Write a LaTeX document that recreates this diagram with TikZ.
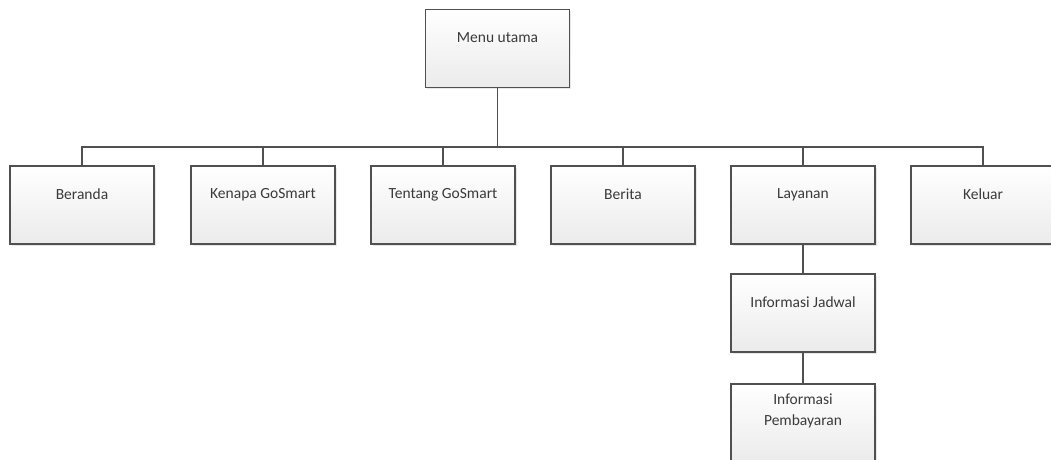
\documentclass[tikz,border=0pt]{standalone}
\usepackage{fontspec}
\setmainfont{Carlito}
\usetikzlibrary{shadows}
\definecolor{edge}{HTML}{505050}
\definecolor{txt}{HTML}{3A3A3A}
\definecolor{botgray}{HTML}{EBEBEB}
\tikzset{
  box/.style={draw=edge, line width=1.3pt, rectangle, minimum width=144pt, minimum height=78pt,
    top color=white, bottom color=botgray, inner sep=0pt,
    drop shadow={shadow xshift=1.5pt, shadow yshift=-1.5pt, fill=black!15, opacity=0.6}},
  lbl/.style={font=\fontsize{15.5}{21}\selectfont, text=txt, align=center, inner sep=0pt},
  conn/.style={draw=edge, line width=1.3pt}
}
\begin{document}
\begin{tikzpicture}[x=1pt,y=1pt]
\useasboundingbox (0,0) rectangle (1051,459);
\clip (0,0) rectangle (1051,459);
\fill[white] (0,0) rectangle (1051,459);
% boxes (y flipped: y = 459 - py)
\node[box] (menu) at (497.5,410.5) {};
\node[box] (beranda) at (82,254) {};
\node[box] (kenapa) at (263,254) {};
\node[box] (tentang) at (443,254) {};
\node[box] (berita) at (623,254) {};
\node[box] (layanan) at (803,254) {};
\node[box] (keluar) at (983,254) {};
\node[box] (jadwal) at (803,146) {};
\node[box] (bayar) at (803,36) {};
% labels
\node[lbl] at ([yshift=-29pt]menu.north) {Menu utama};
\node[lbl] at ([yshift=-29pt]beranda.north) {Beranda};
\node[lbl] at ([yshift=-29pt]kenapa.north) {Kenapa GoSmart};
\node[lbl] at ([yshift=-29pt]tentang.north) {Tentang GoSmart};
\node[lbl] at ([yshift=-29pt]berita.north) {Berita};
\node[lbl] at ([yshift=-29pt]layanan.north) {Layanan};
\node[lbl] at ([yshift=-29pt]keluar.north) {Keluar};
\node[lbl] at ([yshift=-29pt]jadwal.north) {Informasi Jadwal};
\node[lbl] at ([yshift=-28pt]bayar.north) {Informasi\\Pembayaran};
% connectors
\coordinate (bus) at (497.5,312);
\draw[conn] (menu.south) -- (bus);
\draw[conn] (beranda.north) |- (bus);
\draw[conn] (kenapa.north) |- (bus);
\draw[conn] (tentang.north) |- (bus);
\draw[conn] (berita.north) |- (bus);
\draw[conn] (layanan.north) |- (bus);
\draw[conn] (keluar.north) |- (bus);
\draw[conn] (layanan.south) -- (jadwal.north);
\draw[conn] (jadwal.south) -- (bayar.north);
\end{tikzpicture}
\end{document}
